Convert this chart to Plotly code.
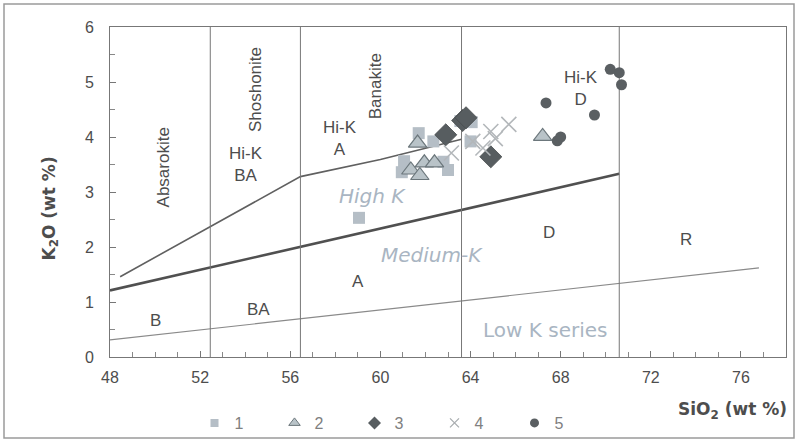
import plotly.graph_objects as go

# ---- sample data (SiO2 vs K2O, wt %) ----
g1_sio2 = [61.7, 61.05, 60.95, 62.35, 62.8, 63.0, 63.55, 64.05, 64.0, 59.05]
g1_k2o = [4.07, 3.56, 3.36, 3.92, 3.55, 3.40, 4.29, 4.27, 3.92, 2.53]

g2_sio2 = [61.65, 61.35, 61.75, 61.95, 62.4, 67.2]
g2_k2o = [3.89, 3.40, 3.30, 3.53, 3.53, 4.01]

g3_sio2 = [62.9, 63.65, 63.8, 64.9]
g3_k2o = [4.04, 4.30, 4.35, 3.64]

g4_sio2 = [63.15, 64.1, 64.55, 64.9, 65.1, 65.7]
g4_k2o = [3.71, 3.92, 3.80, 4.10, 3.97, 4.23]

g5_sio2 = [67.35, 69.5, 70.2, 70.6, 70.7, 67.85, 68.0]
g5_k2o = [4.62, 4.40, 5.23, 5.17, 4.95, 3.93, 4.00]

group_names = ["1", "2", "3", "4", "5"]

# ---- classification boundaries ----
low_med_x = [48.0, 76.8]
low_med_y = [0.31, 1.62]
med_high_x = [48.0, 70.6]
med_high_y = [1.21, 3.33]
high_sho_x = [48.45, 53.0, 56.45, 60.0, 63.6]
high_sho_y = [1.46, 2.50, 3.28, 3.59, 3.96]
sio2_dividers = [52.45, 56.45, 63.6, 70.6]

TXT = "#4d4d4d"
FONT = "Arial, Liberation Sans, sans-serif"
WIDE = "DejaVu Sans, Verdana, sans-serif"

styles = [
    dict(symbol="square", size=12, color="#b5bec6", line=dict(width=0)),
    dict(symbol="triangle-up", size=16, color="#b9c3c8", line=dict(width=1.2, color="#6c777c")),
    dict(symbol="diamond", size=17, color="#575d60", line=dict(width=0.8, color="#484c4e")),
    dict(symbol="x-thin", size=15, color="#b3b7ba", line=dict(width=1.6, color="#b3b7ba")),
    dict(symbol="circle", size=11, color="#5a5f62", line=dict(width=0)),
]
legend_styles = [
    dict(symbol="square", size=8, color="#b5bec6", line=dict(width=0)),
    dict(symbol="triangle-up", size=10, color="#b9c3c8", line=dict(width=1, color="#6c777c")),
    dict(symbol="diamond", size=10, color="#575d60", line=dict(width=0)),
    dict(symbol="x-thin", size=9, color="#a9adb0", line=dict(width=1.3, color="#a9adb0")),
    dict(symbol="circle", size=9, color="#5a5f62", line=dict(width=0)),
]

fig = go.Figure()

fig.add_trace(go.Scatter(x=low_med_x, y=low_med_y, mode="lines",
                         line=dict(color="#8a8a8a", width=1.2), showlegend=False, hoverinfo="skip"))
fig.add_trace(go.Scatter(x=med_high_x, y=med_high_y, mode="lines",
                         line=dict(color="#505050", width=2.6), showlegend=False, hoverinfo="skip"))
fig.add_trace(go.Scatter(x=high_sho_x, y=high_sho_y, mode="lines",
                         line=dict(color="#606060", width=1.6), showlegend=False, hoverinfo="skip"))

for xv in sio2_dividers:
    fig.add_trace(go.Scatter(x=[xv, xv], y=[0, 6], mode="lines",
                             line=dict(color="#777777", width=1), showlegend=False, hoverinfo="skip"))

groups = [(g1_sio2, g1_k2o), (g2_sio2, g2_k2o), (g3_sio2, g3_k2o), (g4_sio2, g4_k2o), (g5_sio2, g5_k2o)]
for (xs, ys), name, st in zip(groups, group_names, styles):
    fig.add_trace(go.Scatter(x=xs, y=ys, mode="markers", name=name, marker=st,
                             showlegend=False, legendgroup=name))

# legend entries with smaller symbols
for name, st in zip(group_names, legend_styles):
    fig.add_trace(go.Scatter(x=[None], y=[None], mode="markers", name=name, marker=st,
                             showlegend=True, legendgroup=name))

# ---- region labels ----
labels = [
    ("Absarokite", 50.36, 3.45, -90),
    ("Shoshonite", 54.45, 4.86, -90),
    ("Banakite", 59.78, 4.93, -90),
    ("Hi-K<br>BA", 54.03, 3.50, 0),
    ("Hi-K<br>A", 58.2, 3.98, 0),
    ("Hi-K<br>D", 68.9, 4.88, 0),
    ("A", 59.0, 1.38, 0),
    ("D", 67.5, 2.26, 0),
    ("R", 73.55, 2.13, 0),
    ("B", 50.04, 0.67, 0),
    ("BA", 54.6, 0.86, 0),
]
for text, xv, yv, ang in labels:
    fig.add_annotation(x=xv, y=yv, text=text, showarrow=False, textangle=ang,
                       xanchor="center", yanchor="middle",
                       font=dict(family=FONT, size=17, color=TXT))

series_labels = [
    ("<i>High K</i>", 59.63, 2.92),
    ("<i>Medium-K</i>", 62.3, 1.86),
    ("Low K series", 67.3, 0.49),
]
for text, xv, yv in series_labels:
    fig.add_annotation(x=xv, y=yv, text=text, showarrow=False,
                       xanchor="center", yanchor="middle",
                       font=dict(family=WIDE, size=20, color="#a9b5c2"))

# ---- axis titles ----
fig.add_annotation(xref="paper", yref="paper", x=-60 / 676, y=0.45,
                   xanchor="center", yanchor="middle",
                   text="<b>K<sub>2</sub>O (wt %)</b>", showarrow=False, textangle=-90,
                   font=dict(family=WIDE, size=17, color=TXT))
fig.add_annotation(xref="paper", yref="paper", x=(732 - 110) / 676, y=-53 / 330,
                   xanchor="center", yanchor="middle",
                   text="<b>SiO<sub>2</sub> (wt %)</b>", showarrow=False,
                   font=dict(family=WIDE, size=17, color=TXT))

# outer picture frame
fig.add_shape(type="rect", xref="paper", yref="paper",
              x0=-106 / 676, x1=1 + 8 / 676, y0=-81 / 330, y1=1 + 23 / 330,
              line=dict(color="#9a9a9a", width=1.5))

fig.update_xaxes(range=[48, 78], tickvals=[48, 52, 56, 60, 64, 68, 72, 76],
                 ticks="inside", ticklen=6, tickcolor="#777", showgrid=False, zeroline=False,
                 showline=True, linecolor="#777", linewidth=1, mirror=True,
                 ticklabelstandoff=6,
                 minor=dict(dtick=1, ticks="inside", ticklen=5, tickcolor="#888"),
                 tickfont=dict(family=FONT, size=16, color=TXT))
fig.update_yaxes(range=[0, 6], dtick=1, ticks="inside", ticklen=6, tickcolor="#777",
                 showgrid=False, zeroline=False, showline=True, linecolor="#777",
                 linewidth=1, mirror=True, ticklabelstandoff=12,
                 minor=dict(dtick=0.5, ticks="inside", ticklen=5, tickcolor="#888"),
                 tickfont=dict(family=FONT, size=16, color=TXT))

fig.update_layout(
    width=798, height=442,
    margin=dict(l=110, r=12, t=27, b=85, autoexpand=False),
    paper_bgcolor="white", plot_bgcolor="white",
    showlegend=True,
    legend=dict(orientation="h", x=0.125, y=-66 / 330, xanchor="left", yanchor="middle",
                entrywidth=35,
                font=dict(family=FONT, size=16, color="#808080"), bgcolor="rgba(0,0,0,0)"),
)

fig.write_html("out.html")
